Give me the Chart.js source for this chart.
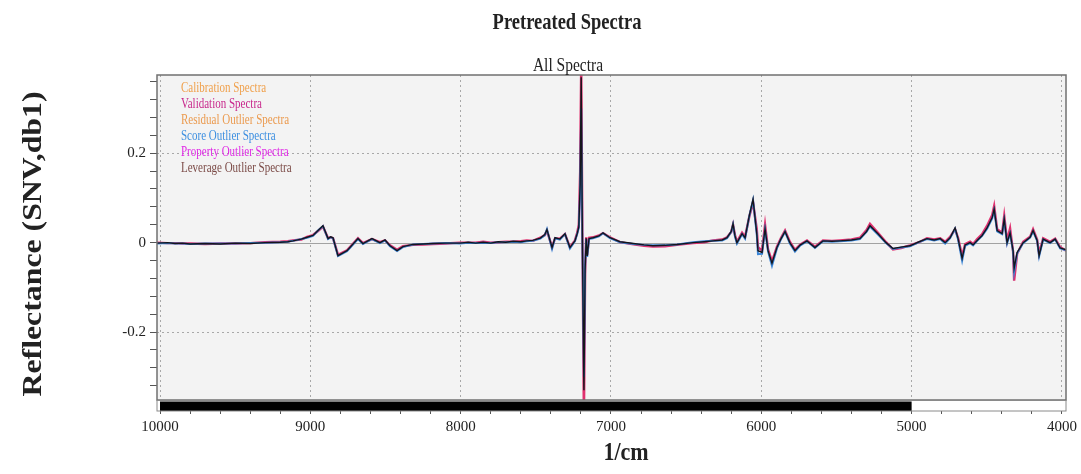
<!DOCTYPE html>
<html>
<head>
<meta charset="utf-8">
<title>Pretreated Spectra</title>
<script src="https://cdn.jsdelivr.net/npm/chart.js@4.4.1/dist/chart.umd.min.js"></script>
<style>
  html, body { margin: 0; padding: 0; background: #fff; }
  #wrap { width: 1081px; height: 474px; }
</style>
</head>
<body>
<div id="wrap"><canvas id="spectraChart" width="1081" height="474"></canvas></div>
<script>
// Pretreated Spectra — all spectra (SNV + 1st derivative)

const FONT = "'Liberation Serif', 'Times New Roman', serif";

// ─── DATA ─────────────────────────────────────────────────────
const wavenumbers = [
  10020, 9950, 9900, 9850, 9800, 9700, 9600, 9500, 9400, 9300,
  9200, 9150, 9115, 9060, 9022, 8982, 8949, 8916, 8882, 8865,
  8849, 8816, 8756, 8683, 8650, 8590, 8537, 8503, 8470, 8423,
  8384, 8317, 8250, 8184, 8100, 8004, 7950, 7900, 7850, 7800,
  7750, 7700, 7650, 7600, 7560, 7520, 7470, 7440, 7426, 7392,
  7372, 7340, 7306, 7273, 7240, 7225, 7214, 7205, 7198, 7190,
  7180, 7172, 7165, 7158, 7146, 7120, 7080, 7053, 7007, 6940,
  6850, 6780, 6721, 6640, 6561, 6454, 6380, 6321, 6260, 6228,
  6200, 6188, 6175, 6162, 6128, 6108, 6080, 6055, 6030, 6022,
  5995, 5975, 5955, 5929, 5896, 5870, 5842, 5810, 5776, 5740,
  5696, 5643, 5590, 5530, 5477, 5400, 5344, 5300, 5277, 5224,
  5170, 5124, 5070, 5011, 4950, 4898, 4850, 4810, 4777, 4744,
  4711, 4691, 4664, 4644, 4611, 4591, 4564, 4531, 4498, 4464,
  4451, 4431, 4398, 4384, 4365, 4345, 4325, 4318, 4298, 4258,
  4212, 4192, 4165, 4152, 4125, 4079, 4045, 4012, 3972,
];

// dark trace (drawn on top)
const calibration = [
  -0.001, 0.000, -0.002, -0.001, -0.003, -0.002, -0.003, -0.001, -0.002, 0.000,
  0.001, 0.002, 0.004, 0.008, 0.012, 0.016, 0.027, 0.038, 0.009, 0.013,
  0.011, -0.029, -0.018, 0.009, -0.002, 0.009, 0.000, 0.006, -0.007, -0.018,
  -0.009, -0.004, -0.003, -0.002, -0.001, -0.001, 0.001, -0.001, 0.001, -0.001,
  0.002, 0.001, 0.003, 0.002, 0.004, 0.005, 0.010, 0.018, 0.029, -0.011,
  0.011, 0.008, 0.020, -0.011, 0.004, 0.020, 0.035, 0.130, 0.370, 0.000,
  -0.330, -0.060, 0.010, -0.030, 0.009, 0.011, 0.015, 0.022, 0.011, 0.002,
  -0.002, -0.005, -0.007, -0.006, -0.004, 0.000, 0.002, 0.004, 0.006, 0.011,
  0.025, 0.042, 0.015, 0.000, 0.020, 0.011, 0.060, 0.097, 0.020, -0.018,
  -0.022, 0.031, -0.018, -0.046, -0.011, 0.008, 0.025, 0.000, -0.018, -0.005,
  0.004, -0.011, 0.004, 0.003, 0.004, 0.006, 0.009, 0.025, 0.038, 0.020,
  0.000, -0.013, -0.010, -0.007, 0.002, 0.009, 0.006, 0.009, 0.000, 0.011,
  0.033, 0.009, -0.035, -0.005, 0.000, -0.005, 0.005, 0.016, 0.033, 0.056,
  0.075, 0.027, 0.020, 0.053, 0.000, 0.022, -0.018, -0.057, -0.022, 0.000,
  0.012, 0.027, 0.005, -0.029, 0.008, 0.000, 0.008, -0.012, -0.016,
];

// pink trace
const validation = [
  0.000, -0.001, -0.001, -0.002, -0.002, -0.003, -0.002, -0.002, -0.001, 0.001,
  0.002, 0.003, 0.005, 0.007, 0.013, 0.017, 0.026, 0.036, 0.010, 0.012,
  0.010, -0.027, -0.017, 0.010, -0.001, 0.008, 0.001, 0.005, -0.006, -0.016,
  -0.008, -0.005, -0.004, -0.003, -0.002, 0.000, 0.000, 0.000, 0.002, 0.000,
  0.001, 0.002, 0.002, 0.003, 0.005, 0.004, 0.011, 0.017, 0.027, -0.010,
  0.010, 0.009, 0.019, -0.010, 0.005, 0.022, 0.040, 0.160, 0.400, 0.020,
  -0.400, -0.070, 0.012, -0.028, 0.011, 0.012, 0.016, 0.021, 0.012, 0.001,
  -0.004, -0.007, -0.009, -0.008, -0.005, -0.001, 0.001, 0.005, 0.007, 0.012,
  0.024, 0.040, 0.017, 0.002, 0.022, 0.013, 0.058, 0.090, 0.030, -0.010,
  -0.018, 0.040, -0.015, -0.042, -0.009, 0.010, 0.027, 0.002, -0.016, -0.004,
  0.005, -0.009, 0.005, 0.004, 0.005, 0.007, 0.011, 0.028, 0.042, 0.022,
  0.001, -0.015, -0.012, -0.006, 0.001, 0.010, 0.007, 0.010, 0.002, 0.013,
  0.030, 0.011, -0.030, -0.003, 0.002, -0.003, 0.008, 0.019, 0.038, 0.062,
  0.082, 0.030, 0.022, 0.060, 0.004, 0.032, -0.020, -0.085, -0.025, 0.002,
  0.013, 0.030, 0.007, -0.025, 0.010, 0.002, 0.009, -0.010, -0.018,
];

// blue trace
const scoreOutlier = [
  -0.002, -0.001, -0.002, -0.002, -0.003, -0.002, -0.002, -0.002, -0.001, 0.000,
  0.001, 0.002, 0.004, 0.008, 0.011, 0.015, 0.027, 0.037, 0.008, 0.012,
  0.010, -0.030, -0.019, 0.008, -0.003, 0.008, -0.001, 0.005, -0.008, -0.019,
  -0.010, -0.004, -0.003, -0.002, -0.001, -0.002, 0.000, -0.001, 0.000, -0.001,
  0.001, 0.001, 0.002, 0.001, 0.003, 0.004, 0.009, 0.017, 0.030, -0.014,
  0.010, 0.007, 0.019, -0.013, 0.003, 0.019, 0.033, 0.120, 0.300, 0.000,
  -0.300, -0.055, 0.008, -0.032, 0.008, 0.010, 0.014, 0.021, 0.010, 0.001,
  -0.003, -0.005, -0.006, -0.006, -0.004, 0.001, 0.003, 0.004, 0.005, 0.010,
  0.024, 0.041, 0.013, -0.002, 0.019, 0.009, 0.059, 0.095, 0.018, -0.026,
  -0.025, 0.029, -0.020, -0.052, -0.013, 0.007, 0.024, -0.002, -0.020, -0.006,
  0.003, -0.012, 0.003, 0.002, 0.003, 0.005, 0.008, 0.024, 0.036, 0.018,
  -0.001, -0.014, -0.011, -0.008, 0.001, 0.008, 0.005, 0.008, -0.002, 0.010,
  0.031, 0.007, -0.040, -0.007, -0.001, -0.006, 0.004, 0.015, 0.031, 0.054,
  0.072, 0.025, 0.019, 0.050, -0.002, 0.020, -0.020, -0.065, -0.024, -0.001,
  0.011, 0.025, 0.004, -0.031, 0.007, -0.001, 0.007, -0.013, -0.017,
];

const legendLabels = [
  'Calibration Spectra', 'Validation Spectra', 'Residual Outlier Spectra',
  'Score Outlier Spectra', 'Property Outlier Spectra', 'Leverage Outlier Spectra',
];
const legendColors = ['#f0a04b', '#c8288c', '#eb9a4e', '#3d8fe0', '#e02ae6', '#7b4a46'];

const xLabelValues = [10000, 9000, 8000, 7000, 6000, 5000, 4000];
const yLabelValues = [-0.2, 0, 0.2];
const yLabelTexts = ['-0.2', '0', '0.2'];
const selectedRange = [10000, 5000];

const xMinorStep = 200;
const yMinorStep = 0.04;

// ─── HELPERS ──────────────────────────────────────────────────
const toPoints = arr => wavenumbers.map((w, i) => ({ x: w, y: arr[i] }));
const near = (a, b) => Math.abs(a - b) < 1e-9;

function drawText(ctx, text, x, y, font, color, stretchY) {
  ctx.save();
  ctx.translate(x, y);
  ctx.scale(1, stretchY || 1);
  ctx.font = font;
  ctx.fillStyle = color;
  ctx.fillText(text, 0, 0);
  ctx.restore();
}

// ─── PLUGIN: background, zero line, frame, range bar, texts ──
const spectraDecor = {
  id: 'spectraDecor',
  beforeDraw(chart) {
    const { ctx, chartArea: a } = chart;
    ctx.save();
    ctx.fillStyle = '#fff';
    ctx.fillRect(0, 0, chart.width, chart.height);
    ctx.fillStyle = '#f3f3f3';
    ctx.fillRect(a.left, a.top, a.right - a.left, a.bottom - a.top);
    ctx.restore();
  },
  beforeDatasetsDraw(chart) {
    const { ctx, chartArea: a, scales: { y } } = chart;
    const y0 = Math.round(y.getPixelForValue(0)) + 0.5;
    ctx.save();
    ctx.strokeStyle = '#a2a2a2';
    ctx.lineWidth = 1;
    ctx.beginPath();
    ctx.moveTo(a.left, y0);
    ctx.lineTo(a.right, y0);
    ctx.stroke();
    ctx.restore();
  },
  afterDraw(chart) {
    const { ctx, chartArea: a, scales: { x } } = chart;
    ctx.save();

    // frame
    ctx.strokeStyle = '#707070';
    ctx.lineWidth = 1.5;
    ctx.strokeRect(a.left, a.top, a.right - a.left, a.bottom - a.top);

    // selected range bar under the plot
    const barTop = a.bottom + 0.5;
    const barH = 10.5;
    ctx.fillStyle = '#fff';
    ctx.fillRect(a.left, barTop, a.right - a.left, barH);
    const x1 = x.getPixelForValue(selectedRange[0]);
    const x2 = x.getPixelForValue(selectedRange[1]);
    ctx.fillStyle = '#000';
    ctx.fillRect(Math.min(x1, x2), barTop + 1, Math.abs(x2 - x1), barH - 1);
    ctx.strokeStyle = '#8a8a8a';
    ctx.lineWidth = 1;
    ctx.strokeRect(a.left, barTop, a.right - a.left, barH);

    // titles
    ctx.textAlign = 'center';
    ctx.textBaseline = 'alphabetic';
    drawText(ctx, 'Pretreated Spectra', 567, 29, `bold 18.5px ${FONT}`, '#222', 1.28);
    drawText(ctx, 'All Spectra', 568, 70.5, `15.5px ${FONT}`, '#222', 1.28);
    drawText(ctx, '1/cm', 626, 460, `bold 22px ${FONT}`, '#222', 1.1);

    // y axis title, stretched along its length like the reference
    ctx.save();
    ctx.translate(41, 244);
    ctx.rotate(-Math.PI / 2);
    ctx.font = `bold 28px ${FONT}`;
    const yTitle = 'Reflectance (SNV,db1)';
    const k = 305 / ctx.measureText(yTitle).width;
    ctx.scale(k, 1);
    ctx.fillStyle = '#222';
    ctx.fillText(yTitle, 0, 0);
    ctx.restore();

    // legend (coloured text only)
    ctx.textAlign = 'left';
    legendLabels.forEach((label, i) => {
      drawText(ctx, label, a.left + 24, a.top + 16.5 + i * 16, `11px ${FONT}`, legendColors[i], 1.25);
    });

    ctx.restore();
  },
};

// ─── CHART ────────────────────────────────────────────────────
new Chart(document.getElementById('spectraChart'), {
  type: 'scatter',
  data: {
    datasets: [
      {
        label: 'Calibration Spectra',
        data: toPoints(calibration),
        showLine: true,
        borderColor: '#15151c',
        borderWidth: 1.4,
        pointRadius: 0,
        order: 0,
      },
      {
        label: 'Score Outlier Spectra',
        data: toPoints(scoreOutlier),
        showLine: true,
        borderColor: '#3a86d8',
        borderWidth: 2,
        pointRadius: 0,
        order: 1,
      },
      {
        label: 'Validation Spectra',
        data: toPoints(validation),
        showLine: true,
        borderColor: '#e0306e',
        borderWidth: 2.4,
        pointRadius: 0,
        order: 2,
      },
    ],
  },
  options: {
    responsive: false,
    animation: false,
    devicePixelRatio: 1,
    layout: { padding: { top: 75, right: 15, bottom: 0, left: 0 } },
    plugins: {
      legend: { display: false },
      tooltip: { enabled: false },
      title: { display: false },
    },
    scales: {
      x: {
        type: 'linear',
        reverse: true,
        min: 3973,
        max: 10020,
        afterBuildTicks: axis => {
          const ticks = [];
          for (let v = 4000; v <= 10000; v += xMinorStep) ticks.push({ value: v });
          axis.ticks = ticks;
        },
        afterFit: scale => { scale.height = 74; },
        ticks: {
          autoSkip: false,
          maxRotation: 0,
          padding: 4,
          color: '#222',
          font: { family: FONT, size: 15 },
          callback: v => (xLabelValues.includes(v) ? String(v) : ''),
        },
        grid: {
          color: ctx => (ctx.tick && xLabelValues.includes(ctx.tick.value) ? '#a8a8a8' : 'rgba(0,0,0,0)'),
          tickColor: '#555',
          tickLength: 14,
          tickWidth: 1,
        },
        border: { display: false, dash: [2, 3] },
      },
      y: {
        type: 'linear',
        min: -0.352,
        max: 0.375,
        afterBuildTicks: axis => {
          const ticks = [];
          for (let k = -8; k <= 9; k++) ticks.push({ value: Math.round(k * yMinorStep * 100) / 100 });
          axis.ticks = ticks;
        },
        afterFit: scale => { scale.width = 157; },
        ticks: {
          autoSkip: false,
          padding: 4,
          color: '#222',
          font: { family: FONT, size: 15 },
          callback: v => {
            const i = yLabelValues.findIndex(t => near(t, v));
            return i >= 0 ? yLabelTexts[i] : '';
          },
        },
        grid: {
          color: ctx => (ctx.tick && !near(ctx.tick.value, 0) && yLabelValues.some(t => near(t, ctx.tick.value)) ? '#a8a8a8' : 'rgba(0,0,0,0)'),
          tickColor: '#555',
          tickLength: 7,
          tickWidth: 1,
        },
        border: { display: false, dash: [2, 3] },
      },
    },
  },
  plugins: [spectraDecor],
});
</script>
</body>
</html>
